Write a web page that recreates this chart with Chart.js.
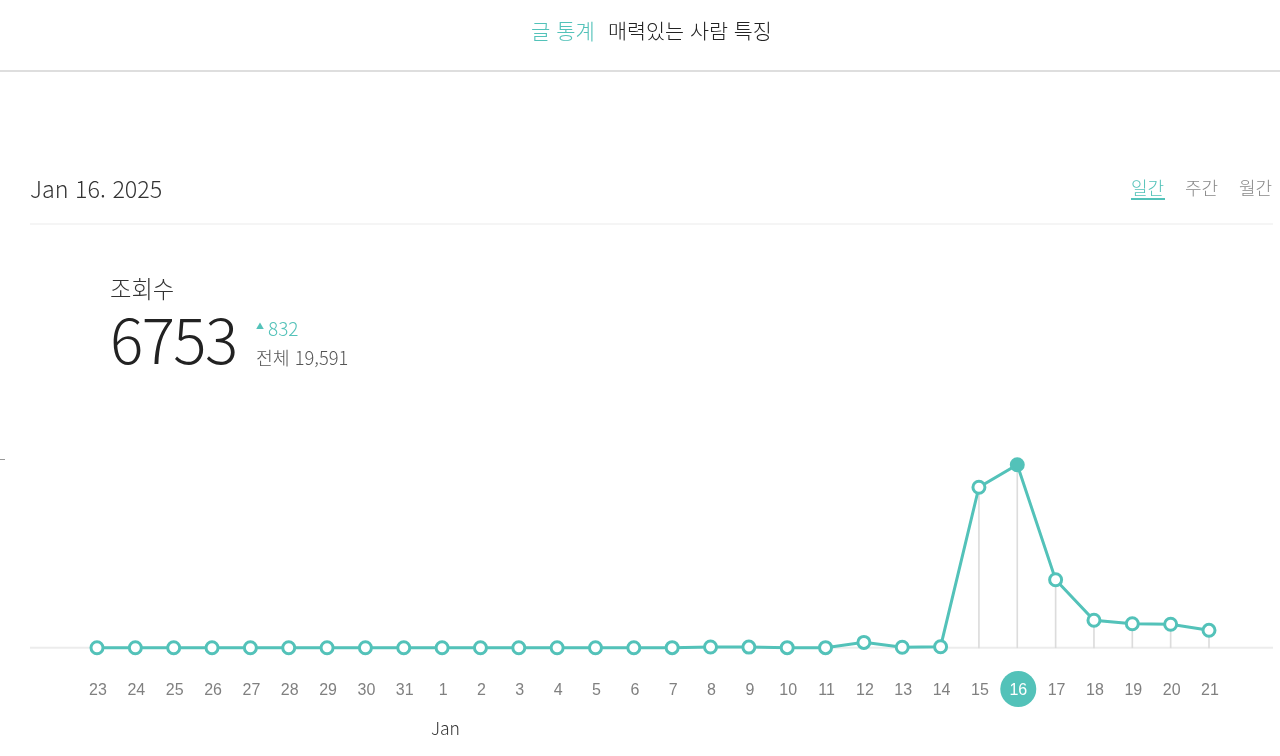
<!DOCTYPE html>
<html lang="ko">
<head>
<meta charset="utf-8">
<title>글 통계</title>
<script src="https://cdn.jsdelivr.net/npm/chart.js@4"></script>
<style>
    html, body { margin:0; padding:0; background:#fff; }
    body { width:1280px; height:756px; position:relative; overflow:hidden; font-family:"Noto Sans CJK KR","Noto Sans",sans-serif; font-weight:300; color:#222; }
    canvas { position:absolute; left:0; top:0; }
    .txt { position:absolute; white-space:nowrap; line-height:1; }
    .teal { color:#53c2b9; }
    .rule { position:absolute; }
</style>
</head>
<body>
<canvas id="viewsChart" width="1280" height="756"></canvas>

<div class="txt teal" style="left:531px; top:20px; font-size:21px;">글 통계</div>
<div class="txt" style="left:608px; top:20px; font-size:20.7px;">매력있는 사람 특징</div>
<div class="rule" style="left:0; top:70px; width:1280px; height:2px; background:#dedede;"></div>

<div class="txt" style="left:30px; top:177px; font-size:23.3px; color:#333;">Jan 16. 2025</div>
<div class="txt teal" style="left:1131px; top:178px; font-size:18px;">일간</div>
<div class="rule" style="left:1131px; top:198px; width:34px; height:2px; background:#53c2b9;"></div>
<div class="txt" style="left:1185px; top:178px; font-size:18px; color:#888;">주간</div>
<div class="txt" style="left:1239px; top:178px; font-size:18px; color:#888;">월간</div>
<div class="rule" style="left:30px; top:223px; width:1243px; height:2px; background:#f5f5f5;"></div>

<div class="txt" style="left:110px; top:277px; font-size:23.3px; color:#333;">조회수</div>
<div class="txt" style="left:110px; top:306px; font-size:62px; font-weight:200; letter-spacing:-1.5px; color:#222;">6753</div>
<div class="txt teal" style="left:256px; top:322px; font-size:8px;">▲</div>
<div class="txt teal" style="left:268px; top:318px; font-size:19px;">832</div>
<div class="txt" style="left:256px; top:348px; font-size:18.3px; color:#555;">전체 19,591</div>

<div class="rule" style="left:0; top:459px; width:5px; height:1px; background:#999;"></div>
<div class="txt" style="left:431px; top:719px; font-size:17.5px; color:#333;">Jan</div>

<script>
// ── Data ───────────────────────────────────────────────────
const days = ['23','24','25','26','27','28','29','30','31','1','2','3','4','5','6','7','8','9','10','11','12','13','14','15','16','17','18','19','20','21'];
const views = [0,0,0,0,0,0,0,0,0,0,0,0,0,0,0,5,30,25,5,5,200,20,40,5921,6753,2510,1015,885,867,645];
const selectedDay = '16';

const TEAL = '#53c2b9';
const selectedIndex = days.indexOf(selectedDay);

// ── Baseline + selected day badge (under the tick labels) ──
const decorations = {
    id: 'decorations',
    beforeDraw(chart) {
        const { ctx, scales: { x, y } } = chart;
        const y0 = y.getPixelForValue(0);
        ctx.save();
        ctx.strokeStyle = '#ececec';
        ctx.lineWidth = 2;
        ctx.beginPath();
        ctx.moveTo(30, y0);
        ctx.lineTo(1273, y0);
        ctx.stroke();
        ctx.fillStyle = TEAL;
        ctx.beginPath();
        ctx.arc(x.getPixelForValue(selectedIndex) + 1, 689, 18, 0, Math.PI * 2);
        ctx.fill();
        ctx.restore();
    }
};

new Chart(document.getElementById('viewsChart'), {
    type: 'line',
    data: {
        labels: days,
        datasets: [
            {
                type: 'line',
                data: views,
                order: 0,
                clip: false,
                borderColor: TEAL,
                borderWidth: 3,
                tension: 0,
                pointRadius: 6,
                pointBorderWidth: 3,
                pointBorderColor: TEAL,
                pointBackgroundColor: days.map((d, i) => i === selectedIndex ? TEAL : '#fff')
            },
            {
                type: 'bar',
                data: views,
                order: 1,
                clip: false,
                barThickness: 1,
                backgroundColor: '#dcdcdc'
            }
        ]
    },
    options: {
        responsive: false,
        animation: false,
        layout: { padding: { left: 97, right: 71, top: 458, bottom: 23 } },
        plugins: { legend: { display: false }, tooltip: { enabled: false } },
        scales: {
            x: {
                offset: false,
                grid: { display: false, drawTicks: false },
                border: { display: false },
                ticks: {
                    autoSkip: false,
                    maxRotation: 0,
                    padding: 33,
                    labelOffset: 1,
                    font: { family: 'Liberation Sans', size: 16 },
                    color: days.map((d, i) => i === selectedIndex ? '#fff' : '#808080')
                }
            },
            y: { display: false, min: 0, max: 7000 }
        }
    },
    plugins: [decorations]
});
</script>
</body>
</html>
